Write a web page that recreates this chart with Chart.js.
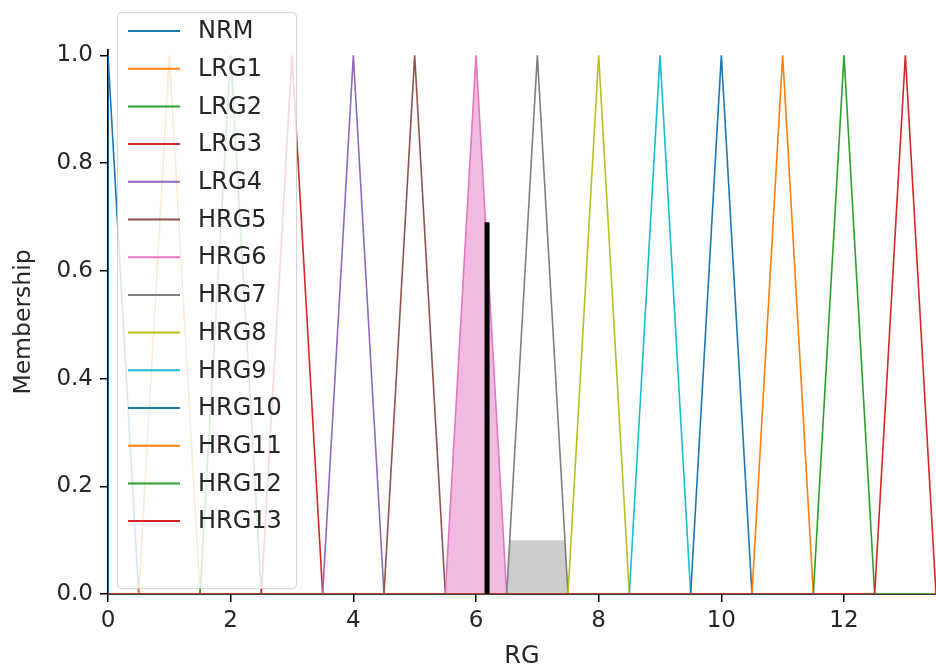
<!DOCTYPE html>
<html>
<head>
<meta charset="utf-8">
<script src="https://cdn.jsdelivr.net/npm/chart.js@4"></script>
<style>
  html, body { margin: 0; padding: 0; background: #fff; }
  #wrap { width: 936px; height: 671px; }
</style>
</head>
<body>
<div id="wrap"><canvas id="chart" width="936" height="671"></canvas></div>
<script>
// universe of RG and the triangular terms (a, b, c)
const universe = [0, 13.5];
const termNames = ['NRM', 'LRG1', 'LRG2', 'LRG3', 'LRG4', 'HRG5', 'HRG6',
  'HRG7', 'HRG8', 'HRG9', 'HRG10', 'HRG11', 'HRG12', 'HRG13'];
const termA = [0, 0.5, 1.5, 2.5, 3.5, 4.5, 5.5, 6.5, 7.5, 8.5, 9.5, 10.5, 11.5, 12.5];
const termB = [0, 1, 2, 3, 4, 5, 6, 7, 8, 9, 10, 11, 12, 13];
const termC = [0.5, 1.5, 2.5, 3.5, 4.5, 5.5, 6.5, 7.5, 8.5, 9.5, 10.5, 11.5, 12.5, 13.5];
const termColors = ['#1f77b4', '#ff7f0e', '#2ca02c', '#d62728', '#9467bd', '#8c564b',
  '#e377c2', '#7f7f7f', '#bcbd22', '#17becf', '#1f77b4', '#ff7f0e', '#2ca02c', '#d62728'];

// activated terms and defuzzified output
const activeTerms = ['HRG6', 'HRG7'];
const activeLevels = [1.0, 0.1];
const activeFills = ['rgba(227,119,194,0.5)', 'rgba(127,127,127,0.4)'];
const crispValue = 6.18;
const crispMembership = 0.69;

const xTicks = [0, 2, 4, 6, 8, 10, 12];
const yTicks = [0, 0.2, 0.4, 0.6, 0.8, 1.0];

const datasets = [];

datasets.push({
  label: 'crisp',
  data: [{x: crispValue, y: 0}, {x: crispValue, y: crispMembership}],
  borderColor: '#000', borderWidth: 5, borderCapStyle: 'butt',
  pointRadius: 0, order: 0
});

termNames.forEach((name, i) => {
  const a = termA[i], b = termB[i], c = termC[i];
  datasets.push({
    label: name,
    data: [{x: universe[0], y: 0}, {x: a, y: 0}, {x: b, y: 1}, {x: c, y: 0}, {x: universe[1], y: 0}],
    borderColor: termColors[i], borderWidth: 1.6,
    pointRadius: 0, order: 20 - i
  });
});

activeTerms.forEach((name, k) => {
  const i = termNames.indexOf(name);
  const a = termA[i], b = termB[i], c = termC[i], h = activeLevels[k];
  datasets.push({
    label: name + ' act',
    data: [{x: a, y: 0}, {x: a + h * (b - a), y: h}, {x: c - h * (c - b), y: h}, {x: c, y: 0}],
    borderWidth: 0, borderColor: 'rgba(0,0,0,0)',
    backgroundColor: activeFills[k], fill: 'origin',
    pointRadius: 0, order: 100
  });
});

const legendBox = {
  id: 'legendBox',
  afterDatasetsDraw(chart) {
    const ctx = chart.ctx;
    ctx.save();
    const x = 117.5, y = 12.5, w = 179, h = 576, r = 4;
    ctx.beginPath();
    ctx.moveTo(x + r, y);
    ctx.arcTo(x + w, y, x + w, y + h, r);
    ctx.arcTo(x + w, y + h, x, y + h, r);
    ctx.arcTo(x, y + h, x, y, r);
    ctx.arcTo(x, y, x + w, y, r);
    ctx.closePath();
    ctx.fillStyle = 'rgba(255,255,255,0.82)';
    ctx.fill();
    ctx.strokeStyle = 'rgba(204,204,204,0.8)';
    ctx.lineWidth = 1;
    ctx.stroke();
    ctx.font = '24px "DejaVu Sans"';
    ctx.textBaseline = 'middle';
    ctx.fillStyle = '#262626';
    termNames.forEach((name, i) => {
      const ry = 31 + i * 37.7;
      ctx.beginPath();
      ctx.moveTo(128, ry);
      ctx.lineTo(180, ry);
      ctx.strokeStyle = termColors[i];
      ctx.lineWidth = 2;
      ctx.stroke();
      ctx.fillText(name, 198, ry + 1);
    });
    ctx.restore();
  }
};

Chart.defaults.font.family = '"DejaVu Sans"';
Chart.defaults.color = '#262626';

new Chart(document.getElementById('chart'), {
  type: 'line',
  data: { datasets },
  plugins: [legendBox],
  options: {
    responsive: false,
    animation: false,
    layout: { padding: { top: 50, right: 0, bottom: 0, left: 0 } },
    plugins: { legend: { display: false }, tooltip: { enabled: false } },
    elements: { line: { tension: 0 } },
    scales: {
      x: {
        type: 'linear',
        min: universe[0], max: universe[1],
        afterBuildTicks: s => { s.ticks = xTicks.map(v => ({value: v})); },
        afterFit: s => { s.height = 77; },
        ticks: { font: { size: 23 }, color: '#262626', padding: 5, maxRotation: 0 },
        grid: { drawOnChartArea: false, drawTicks: true, tickLength: 8, color: '#000', lineWidth: 1.5 },
        border: { display: true, color: '#000', width: 1.8 },
        title: { display: true, text: 'RG', font: { size: 24 }, color: '#262626', padding: { top: 0, bottom: 0 } }
      },
      y: {
        type: 'linear',
        min: 0, max: 1.01,
        afterBuildTicks: s => { s.ticks = yTicks.map(v => ({value: v})); },
        afterFit: s => { s.width = 108; },
        ticks: { font: { size: 23 }, color: '#262626', padding: 7, callback: v => v.toFixed(1) },
        grid: { drawOnChartArea: false, drawTicks: true, tickLength: 8, color: '#000', lineWidth: 1.5 },
        border: { display: true, color: '#000', width: 1.8 },
        title: { display: true, text: 'Membership', font: { size: 23.5 }, color: '#262626', padding: { top: 10, bottom: 0 } }
      }
    }
  }
});
</script>
</body>
</html>
